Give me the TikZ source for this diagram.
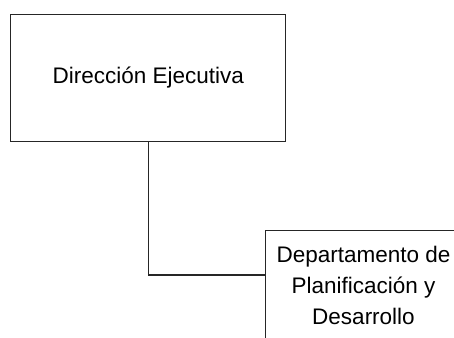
\documentclass[tikz,border=0pt]{standalone}
\usepackage{fontspec}
\setmainfont{Liberation Sans}
\usetikzlibrary{positioning}

\begin{document}
\begin{tikzpicture}[x=1pt, y=-1pt]
        \tikzstyle{unit} = [rectangle, draw = black!85, line width = 1.2pt, align = center, inner sep = 0pt, font = \fontsize{22.5}{31}\selectfont]
        \tikzstyle{connect} = [line width = 1.2pt, draw = black!85]
        \useasboundingbox (0,0) rectangle (454,337);
        \clip (0,0) rectangle (454,337);
        \node[unit, minimum width = 275pt, minimum height = 127pt] (dir) at (148.3,78) {Dirección Ejecutiva};
        \node[unit, minimum width = 196pt, minimum height = 110pt] (dep) at (363.5,285.7) {Departamento de\\ Planificación y\\ Desarrollo};
        \draw[connect] (dir.south) |- ([yshift=10.7pt]dep.west);
      \end{tikzpicture}
\end{document}
